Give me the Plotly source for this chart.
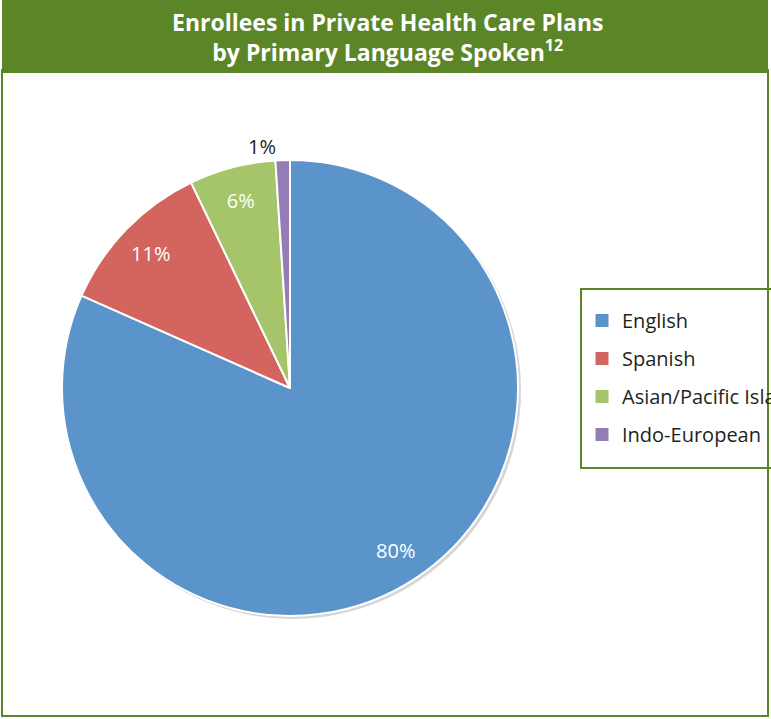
import plotly.graph_objects as go

W, H = 771, 719

categories = ["English", "Spanish", "Asian/Pacific Islander", "Indo-European"]
values = [80, 11, 6, 1]
colors = ["#5b93cb", "#d3645e", "#a6c46a", "#947cb5"]
text_pos = ["inside", "inside", "inside", "outside"]

title_line1 = "Enrollees in Private Health Care Plans"
title_line2 = "by Primary Language Spoken<sup>12</sup>"

GREEN = "#5a8628"

def px(x):
    return x / W

def py(y):
    return 1 - y / H

dom_x = [px(62), px(518)]
dom_y = [py(616), py(160)]

fig = go.Figure()

# subtle shadow
fig.add_trace(go.Pie(
    values=[1], labels=["shadow"], sort=False,
    domain=dict(x=[px(64), px(521)], y=[py(619), py(162)]),
    marker=dict(colors=["#d6d6d6"], line=dict(width=0)),
    textinfo="none", hoverinfo="skip", showlegend=False,
))

# main pie
fig.add_trace(go.Pie(
    labels=categories, values=values, sort=False,
    direction="clockwise", rotation=0,
    domain=dict(x=dom_x, y=dom_y),
    marker=dict(colors=colors, line=dict(color="white", width=2)),
    textinfo="none", showlegend=False,
))

# label ring (transparent donut carrying the percentage labels)
fig.add_trace(go.Pie(
    labels=categories, values=values, sort=False,
    direction="clockwise", rotation=0, hole=0.7,
    domain=dict(x=dom_x, y=dom_y),
    marker=dict(colors=["rgba(0,0,0,0)"] * 4, line=dict(width=0)),
    texttemplate="%{value}%", textposition=text_pos,
    insidetextorientation="horizontal",
    insidetextfont=dict(family="Open Sans", size=20, color="white"),
    outsidetextfont=dict(family="Open Sans", size=20, color="#231f20"),
    hoverinfo="skip", showlegend=False,
))

# legend entries
for i, (c, col) in enumerate(zip(categories, colors)):
    fig.add_trace(go.Scatter(
        x=[None], y=[None], mode="markers", name=c,
        legendgroup=f"g{i}",
        marker=dict(symbol="square", size=13, color=col),
    ))

fig.update_layout(
    width=W, height=H,
    margin=dict(l=0, r=0, t=0, b=0, autoexpand=False),
    paper_bgcolor="white", plot_bgcolor="white",
    xaxis=dict(visible=False, domain=[0, 1]),
    yaxis=dict(visible=False, domain=[0, 1]),
    legend=dict(
        x=px(582), y=py(301), xanchor="left", yanchor="top",
        bgcolor="rgba(0,0,0,0)", borderwidth=0,
        font=dict(family="Open Sans", size=20, color="#231f20"),
        traceorder="grouped", tracegroupgap=9,
        itemwidth=30,
    ),
    shapes=[
        dict(type="rect", xref="paper", yref="paper",
             x0=px(2), x1=px(768), y0=py(716), y1=py(70),
             line=dict(color=GREEN, width=2), fillcolor="white", layer="below"),
        dict(type="rect", xref="paper", yref="paper",
             x0=px(2), x1=px(768), y0=py(73), y1=py(0),
             line=dict(width=0), fillcolor=GREEN, layer="below"),
        dict(type="rect", xref="paper", yref="paper",
             x0=px(581), x1=px(800), y0=py(468), y1=py(289),
             line=dict(color=GREEN, width=2), fillcolor="rgba(0,0,0,0)"),
    ],
    annotations=[
        dict(text=f"<b>{title_line1}</b><br><b>{title_line2}</b>",
             x=px(387), y=py(37), xref="paper", yref="paper",
             showarrow=False, xanchor="center", yanchor="middle",
             font=dict(family="Open Sans", size=23, color="white")),
    ],
)

fig.write_html("out.html")
